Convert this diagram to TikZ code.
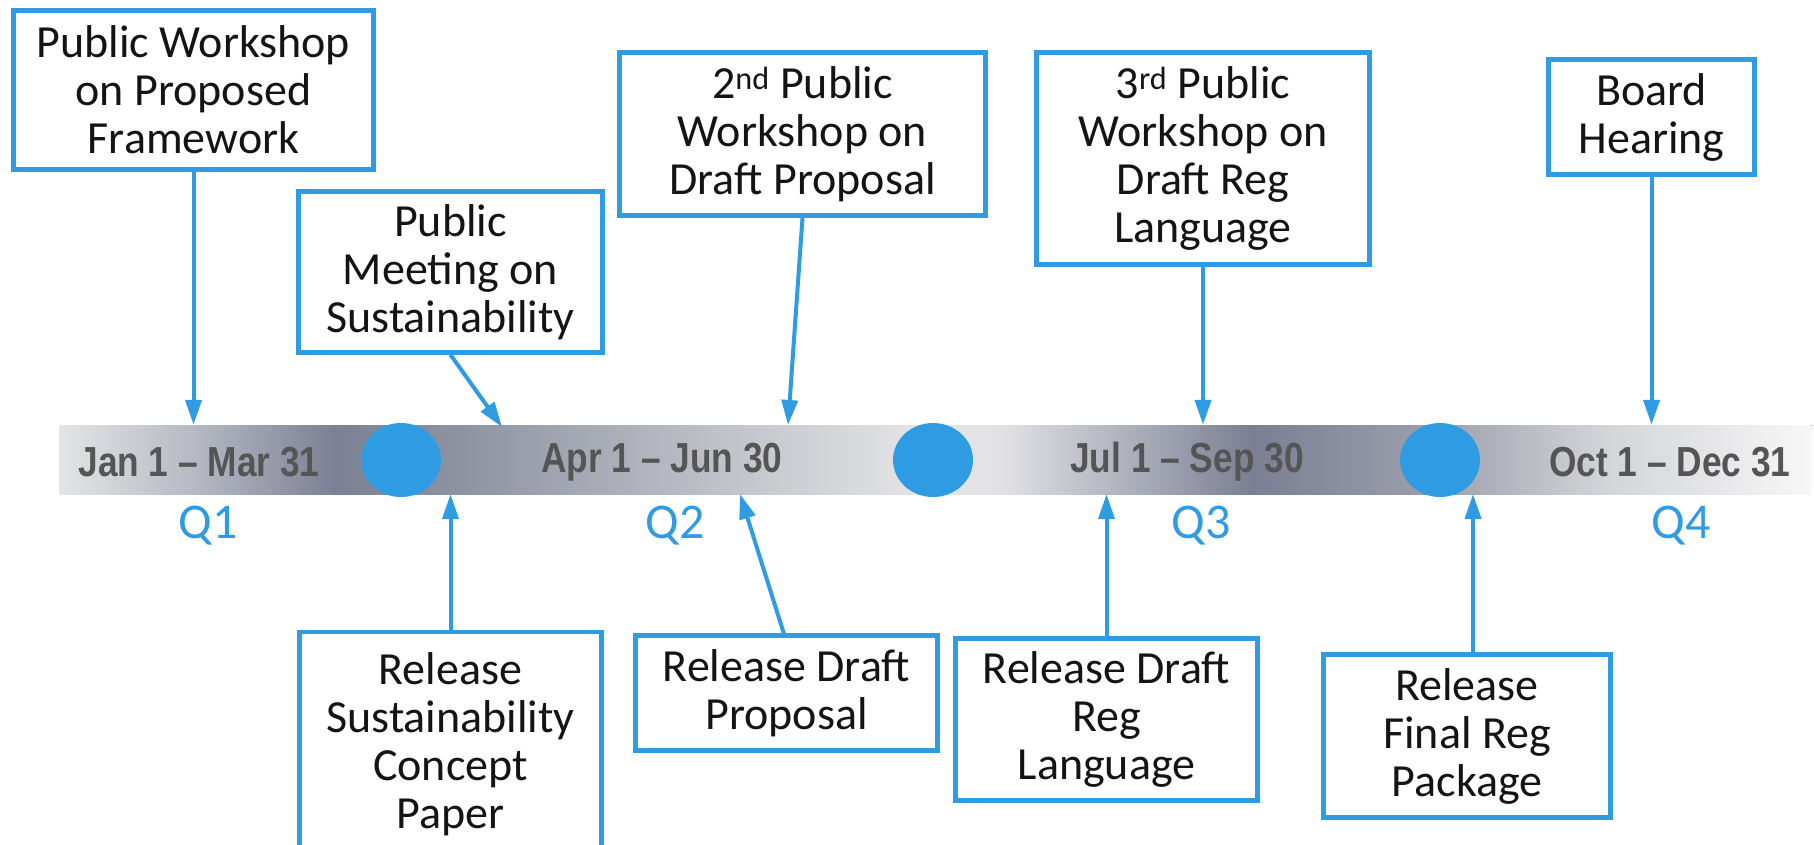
\documentclass[tikz,border=0pt]{standalone}
\usepackage{fontspec}
\setmainfont{Carlito}
\newfontfamily\datefont{Liberation Sans}[FakeStretch=0.84]
\usetikzlibrary{arrows.meta,shapes.geometric}
\definecolor{tblue}{HTML}{2E9BE3}
\definecolor{datecol}{HTML}{555555}
\definecolor{s1}{HTML}{E3E4E6}
\definecolor{s2}{HTML}{B4B7C1}
\definecolor{s3}{HTML}{7B8094}
\definecolor{s4}{HTML}{8E93A2}
\definecolor{s5}{HTML}{BCBEC6}
\definecolor{s6}{HTML}{E6E6E7}
\definecolor{s7}{HTML}{E2E2E5}
\definecolor{s8}{HTML}{7A7F93}
\definecolor{s9}{HTML}{9DA1AE}
\definecolor{s10}{HTML}{D2D3D7}
\definecolor{s11}{HTML}{F7F7F7}
\begin{document}
\begin{tikzpicture}[x=1pt,y=-1pt,
  evbox/.style={draw=tblue, line width=4.5pt, fill=white, align=center,
    font=\fontsize{46}{48}\selectfont, inner sep=0pt, text=black!92},
  conn/.style={draw=tblue, line width=4pt, -{Triangle[length=25pt,width=16pt]}},
  datelab/.style={font=\datefont\bfseries\fontsize{42}{44}\selectfont, text=datecol},
  qlab/.style={font=\fontsize{50}{52}\selectfont, text=tblue},
  dot/.style={ellipse, fill=tblue, minimum width=80pt, minimum height=74pt, inner sep=0pt}]
\useasboundingbox (0,0) rectangle (1814,844);
\clip (0,0) rectangle (1814,844);

% timeline bar
\foreach \xa/\xb/\ca/\cb in {60/200/s1/s2, 200/335/s2/s3, 335/460/s3/s4, 460/700/s4/s5,
   700/930/s5/s6, 930/1000/s6/s7, 1000/1253/s7/s8, 1253/1440/s8/s9, 1440/1600/s9/s10, 1600/1811/s10/s11}
  \fill[left color=\ca, right color=\cb] (\xa-0.5,425) rectangle (\xb+0.5,494);
\node[minimum width=1751pt, minimum height=69pt, inner sep=0pt] (bar) at (935.5,459.5) {};

% milestones
\node[dot] (c1) at (401,460) {};
\node[dot] (c2) at (933,460) {};
\node[dot] (c3) at (1440,460) {};

% date labels
\node[datelab] (d1) at (199,462) {Jan 1 – Mar 31};
\node[datelab] (d2) at (662,462) {Apr 1 – Jun 30};
\node[datelab] (d3) at (1187,462) {Jul 1 – Sep 30};
\node[datelab] (d4) at (1670,462) {Oct 1 – Dec 31};

% quarter labels
\node[qlab] (q1) at (208,526) {Q1};
\node[qlab] (q2) at (675,526) {Q2};
\node[qlab] (q3) at (1201,526) {Q3};
\node[qlab] (q4) at (1681,526) {Q4};

% event boxes (top)
\node[evbox, minimum width=360pt, minimum height=159pt] (b1) at (193.5,90) {Public Workshop\\on Proposed\\Framework};
\node[evbox, minimum width=304pt, minimum height=161pt] (b2) at (450.5,272) {Public\\Meeting on\\Sustainability};
\node[evbox, minimum width=366pt, minimum height=163pt] (b3) at (802.5,134) {2\textsuperscript{nd} Public\\Workshop on\\Draft Proposal};
\node[evbox, minimum width=333pt, minimum height=212pt] (b4) at (1203,158.5) {3\textsuperscript{rd} Public\\Workshop on\\Draft Reg\\Language};
\node[evbox, minimum width=206pt, minimum height=115pt] (b5) at (1651.5,117) {Board\\Hearing};

% event boxes (bottom)
\node[evbox, minimum width=302pt, minimum height=224pt] (r1) at (450.5,744) {Release\\Sustainability\\Concept\\Paper};
\node[evbox, minimum width=302pt, minimum height=115pt] (r2) at (786.5,693) {Release Draft\\Proposal};
\node[evbox, minimum width=302pt, minimum height=162pt] (r3) at (1106.5,719.5) {Release Draft\\Reg\\Language};
\node[evbox, minimum width=287pt, minimum height=163pt] (r4) at (1467,736) {Release\\Final Reg\\Package};

% free ends of connectors
\coordinate (t2) at (502,427);
\coordinate (t3) at (788,425);
\coordinate (s2) at (740,494);
\coordinate (s4) at (1473,494);
\coordinate (f4) at (1473,653);
\coordinate (f2) at (784,634);

% connectors
\draw[conn] (b1.south) -- (b1.south |- bar.north);
\draw[conn] (b2.south) -- (t2);
\draw[conn] (b3.south) -- (t3);
\draw[conn] (b4.south) -- (b4.south |- bar.north);
\draw[conn] (b5.south) -- (b5.south |- bar.north);
\draw[conn] (r1.north) -- (r1.north |- bar.south);
\draw[conn] (f2) -- (s2);
\draw[conn] (r3.north) -- (r3.north |- bar.south);
\draw[conn] (f4) -- (s4);
\end{tikzpicture}
\end{document}
